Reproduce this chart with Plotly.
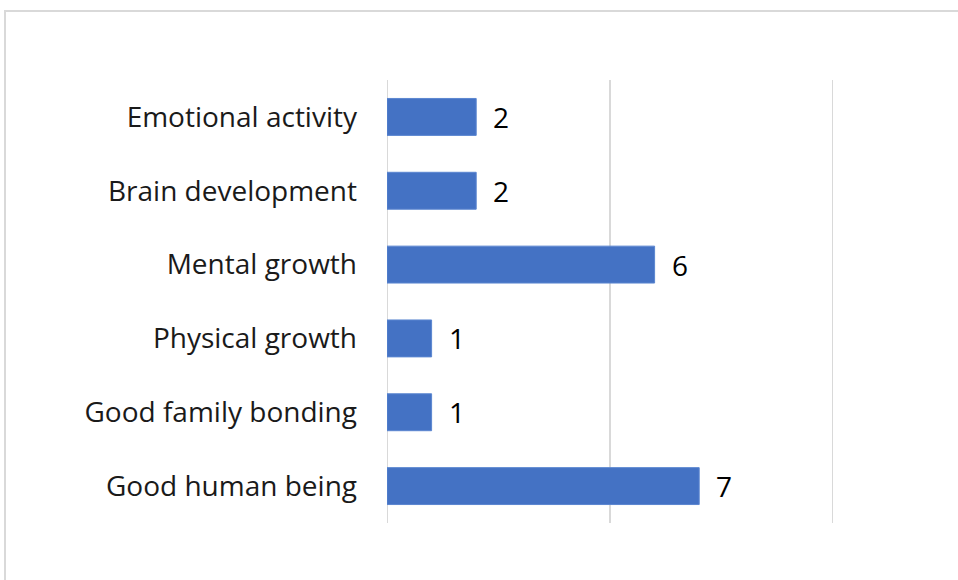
import plotly.graph_objects as go

categories = ["Good human being", "Good family bonding", "Physical growth",
              "Mental growth", "Brain development", "Emotional activity"]
counts = [7, 1, 1, 6, 2, 2]
grid_values = [0, 5, 10]

W, H = 958, 580
L, R, T, B = 387, 125, 80, 57
pw, ph = W - L - R, H - T - B
FONT = "Open Sans, Lato, sans-serif"
FS = 28

fig = go.Figure(go.Bar(
    y=categories, x=counts, orientation="h",
    marker=dict(color="#4472c4", line=dict(color="#5b86d0", width=1)),
    hoverinfo="x+y",
))

# vertical gridlines, drawn beneath the bars
for g in grid_values:
    fig.add_shape(type="line", xref="x", yref="paper", x0=g, x1=g, y0=0, y1=1,
                  line=dict(color="#d9d9d9", width=2), layer="below")

# value labels to the right of each bar
for cat, val in zip(categories, counts):
    fig.add_annotation(x=val, y=cat, text=str(val), showarrow=False,
                       xanchor="left", xshift=15,
                       font=dict(family=FONT, size=FS, color="#000000"))

# outer chart frame (only top and left edges fall inside the view)
fig.add_shape(type="rect", xref="paper", yref="paper",
              x0=(5 - L) / pw, x1=1.5, y0=-0.5, y1=(H - B - 11) / ph,
              line=dict(color="#d9d9d9", width=2), layer="below")

fig.update_layout(
    width=W, height=H,
    margin=dict(l=L, r=R, t=T, b=B),
    paper_bgcolor="white", plot_bgcolor="white",
    bargap=0.5, showlegend=False,
    font=dict(family=FONT, size=FS, color="#1a1a1a"),
    xaxis=dict(range=[0, 10], showgrid=False, showticklabels=False,
               zeroline=False, fixedrange=True),
    yaxis=dict(ticks="", ticklabelstandoff=29, showgrid=False, zeroline=False,
               tickfont=dict(family=FONT, size=FS, color="#1a1a1a")),
)

fig.write_html("out.html")
